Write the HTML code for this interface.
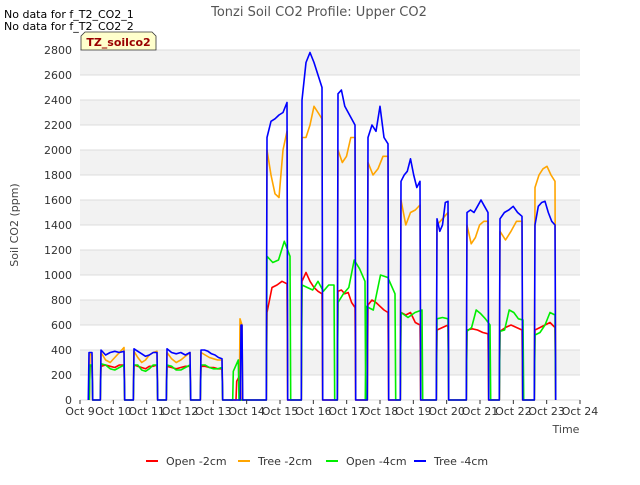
<!DOCTYPE html>
<html><head><meta charset="utf-8"><style>
body{margin:0;background:#fff;font-family:"Liberation Sans","DejaVu Sans",sans-serif}
text{font-family:"DejaVu Sans","Liberation Sans",sans-serif}
</style></head><body>
<svg id="chart" width="640" height="480" xmlns="http://www.w3.org/2000/svg">
<g id="bands"></g><g id="grid"></g><g id="series"></g><g id="axes"></g>
<text x="319" y="16" text-anchor="middle" font-size="13" fill="#555">Tonzi Soil CO2 Profile: Upper CO2</text>
<text x="4" y="18" font-size="11" fill="#000">No data for f_T2_CO2_1</text>
<text x="4" y="30" font-size="11" fill="#000">No data for f_T2_CO2_2</text>
<g>
<path d="M81,50 L81,36 L85,32 L152,32 L156,36 L156,50 Z" fill="#ffffcc" stroke="#333" stroke-width="0.8"/>
<text x="118.5" y="46" text-anchor="middle" font-size="11" font-weight="bold" fill="#990000">TZ_soilco2</text>
</g>
<text transform="translate(18,225) rotate(-90)" text-anchor="middle" font-size="11" fill="#444">Soil CO2 (ppm)</text>
<text x="566" y="433" text-anchor="middle" font-size="11" fill="#444">Time</text>
<g id="legend"></g>
</svg>
<script>
const xTicks=["Oct 9","Oct 10","Oct 11","Oct 12","Oct 13","Oct 14","Oct 15","Oct 16","Oct 17","Oct 18","Oct 19","Oct 20","Oct 21","Oct 22","Oct 23","Oct 24"];
const yTicks=[0,200,400,600,800,1000,1200,1400,1600,1800,2000,2200,2400,2600,2800];
const seriesNames=["Open -2cm","Tree -2cm","Open -4cm","Tree -4cm"];
const seriesColors=["#ff0000","#ffa500","#00ee00","#0000ff"];
// segments: [startDay, endDay, values...] (days since Oct 9)
const open2=[[0.3,0.36,270,270],[0.63,1.32,270,280,270,260,280,280],[1.62,2.31,280,270,260,250,270,270,280],[2.61,3.3,270,260,250,260,270,270],[3.63,4.26,270,270,260,260,250,250],[4.7,4.8,150,200],[5.61,6.21,700,900,920,950,930],[6.66,7.26,950,1020,950,900,870,850],[7.74,8.25,870,880,850,860,780,740],[8.64,9.24,760,800,780,750,720,700],[9.63,10.2,700,680,700,620,600],[10.71,11.04,560,580,600],[11.61,12.24,560,570,560,540,530],[12.6,13.26,550,580,600,580,560],[13.65,14.25,560,580,600,620,580]];
const tree2=[[0.3,0.36,370,360],[0.63,1.32,380,320,300,340,380,420],[1.62,2.31,390,340,300,320,360,380,390],[2.61,3.3,380,330,300,320,350,380],[3.63,4.26,380,360,340,330,320,320],[4.8,4.86,650,600],[5.61,6.21,2000,1800,1650,1620,2000,2150],[6.66,7.26,2100,2100,2200,2350,2300,2250],[7.74,8.25,2000,1900,1950,2100,2100],[8.64,9.24,1900,1800,1850,1950,1950],[9.63,10.2,1600,1400,1500,1520,1560],[10.71,11.04,1400,1450,1500],[11.61,12.24,1400,1250,1300,1400,1430,1430],[12.6,13.26,1350,1280,1350,1430,1430],[13.65,14.25,1700,1800,1850,1870,1800,1750]];
const open4=[[0.3,0.36,280,280],[0.63,1.32,290,280,250,240,260,280],[1.62,2.31,280,280,240,230,250,280,280],[2.61,3.3,280,270,240,240,260,280],[3.63,4.26,280,280,260,250,250,260],[4.6,4.75,230,320],[5.61,6.3,1150,1100,1120,1270,1150],[6.66,7.62,920,900,880,950,870,920,920],[7.74,8.55,780,850,900,1120,1050,950],[8.58,9.45,750,720,1000,980,850],[9.63,10.26,700,660,700,720],[10.71,11.04,650,660,650],[11.61,12.3,550,580,720,690,650,600],[12.6,13.29,550,560,720,700,650,640],[13.65,14.25,520,540,600,700,680]];
const tree4=[[0.27,0.36,380,380],[0.63,1.32,400,360,380,390,380,390],[1.62,2.31,410,390,370,350,360,380,380],[2.61,3.3,410,380,370,380,360,380],[3.63,4.26,400,400,390,370,360,340,330],[4.83,4.86,600,600],[5.61,6.21,2100,2230,2250,2280,2300,2380],[6.66,7.26,2400,2700,2780,2700,2600,2500],[7.74,8.25,2450,2480,2350,2300,2250,2200],[8.64,9.24,2100,2200,2150,2350,2100,2050],[9.63,10.2,1750,1800,1830,1930,1800,1700,1750],[10.71,11.04,1450,1350,1400,1580,1590],[11.61,12.24,1500,1520,1500,1550,1600,1550,1500],[12.6,13.26,1450,1500,1520,1550,1500,1470],[13.65,14.25,1400,1550,1580,1590,1500,1430,1400]];
const allSeries=[open2,tree2,open4,tree4];
const X0=80,X1=580,Y0=400,Y1=50;
const xs=d=>X0+d*(X1-X0)/15, ys=v=>Y0-v*(Y0-Y1)/2800;
const NS="http://www.w3.org/2000/svg";
function mk(tag,attrs,parent){const e=document.createElementNS(NS,tag);for(const k in attrs)e.setAttribute(k,attrs[k]);parent.appendChild(e);return e;}
const bands=document.getElementById('bands'),grid=document.getElementById('grid'),axes=document.getElementById('axes'),ser=document.getElementById('series'),leg=document.getElementById('legend');
mk('rect',{x:X0,y:Y1,width:X1-X0,height:Y0-Y1,fill:'#fff'},bands);
for(let i=0;i<yTicks.length-1;i++){if(i%2===1){const r=mk('rect',{x:X0,y:ys(yTicks[i+1]),width:X1-X0,height:ys(yTicks[i])-ys(yTicks[i+1]),fill:'#f2f2f2'},bands);

}}
yTicks.forEach(v=>{const l=mk('line',{x1:X0,x2:X1,y1:ys(v),y2:ys(v),stroke:'#dcdcdc','stroke-width':1},grid);


const t=mk('text',{x:X0-8,y:ys(v)+4,'text-anchor':'end','font-size':11,fill:'#333'},axes);t.textContent=v;

});
xTicks.forEach((s,i)=>{mk('line',{x1:xs(i),x2:xs(i),y1:Y0,y2:Y0+4,stroke:'#333'},axes);
const t=mk('text',{x:xs(i),y:Y0+15,'text-anchor':'middle','font-size':11,fill:'#333'},axes);t.textContent=s;

});
allSeries.forEach((segs,si)=>{let pts=[];
segs.forEach(sg=>{const t0=sg[0],t1=sg[1],vals=sg.slice(2),n=vals.length;
pts.push([t0-0.02,0]);vals.forEach((v,j)=>pts.push([t0+(n>1?(t1-t0)*j/(n-1):0),v]));pts.push([t1+0.02,0]);});
const d=pts.map((p,i)=>(i?'L':'M')+xs(p[0]).toFixed(1)+','+ys(p[1]).toFixed(1)).join(' ');
const p=mk('path',{d:d,fill:'none',stroke:seriesColors[si],'stroke-width':1.6,'stroke-linejoin':'round'},ser);

});
const lx=[146,238,326,414];
seriesNames.forEach((s,i)=>{const g=mk('g',{},leg);


mk('line',{x1:lx[i],x2:lx[i]+12,y1:461,y2:461,stroke:seriesColors[i],'stroke-width':2},g);
const t=mk('text',{x:lx[i]+20,y:465,'font-size':11,fill:'#333'},g);t.textContent=s;});
</script>
</body></html>
